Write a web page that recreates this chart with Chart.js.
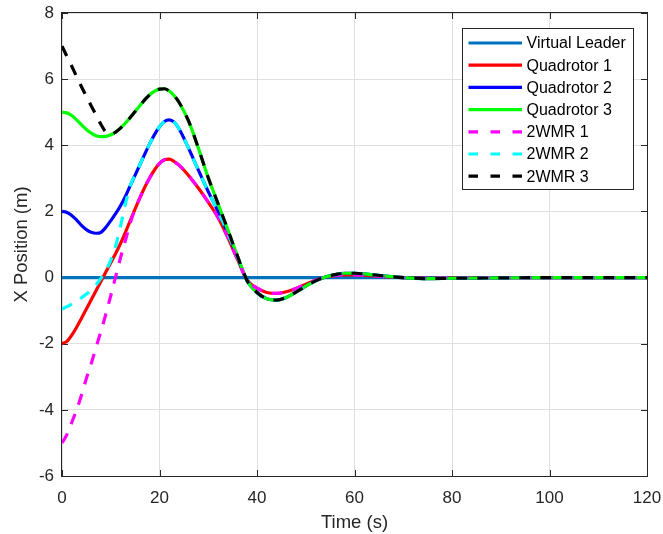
<!DOCTYPE html>
<html>
<head>
<meta charset="utf-8">
<script src="https://cdn.jsdelivr.net/npm/chart.js@4.4.1/dist/chart.umd.min.js"></script>
<style>
  body { margin: 0; background: #fff; }
  #wrap { width: 663px; height: 534px; }
</style>
</head>
<body>
<div id="wrap"><canvas id="posChart"></canvas></div>
<script>
// time samples (s)
const time = [0,1,2,3,4,5,6,7,8,9,10,11,12,13,14,15,16,17,18,19,20,21,22,23,24,
  26,28,30,32,34,36,38,40,42,44,46,48,50,52,54,56,58,60,62,64,66,
  70,75,80,90,100,110,120];

const leader = [0,0,0,0,0,0,0,0,0,0,0,0,0,0,0,0,0,0,0,0,0,0,0,0,0,
  0,0,0,0,0,0,0,0,0,0,0,0,0,0,0,0,0,0,0,0,0,
  0,0,0,0,0,0,0];

const quad1 = [-2.00,-1.93,-1.74,-1.50,-1.23,-0.95,-0.67,-0.39,-0.11,0.17,0.45,0.73,1.03,1.37,1.72,2.08,2.42,2.74,3.02,3.26,3.45,3.56,3.58,3.51,3.40,
  3.08,2.70,2.28,1.82,1.22,0.55,-0.08,-0.32,-0.45,-0.48,-0.43,-0.33,-0.20,-0.08,0.01,0.06,0.08,0.08,0.07,0.05,0.03,
  0.00,-0.02,-0.01,0,0,0,0];

const quad2 = [2.00,1.97,1.88,1.74,1.58,1.45,1.37,1.34,1.37,1.52,1.72,1.93,2.17,2.45,2.78,3.10,3.42,3.74,4.05,4.33,4.56,4.72,4.77,4.70,4.50,
  3.90,3.24,2.60,2.00,1.34,0.62,-0.10,-0.45,-0.64,-0.68,-0.60,-0.44,-0.26,-0.10,0.02,0.09,0.13,0.13,0.11,0.08,0.05,
  0.00,-0.03,-0.02,-0.01,0,0,0];

const quad3 = [5.00,4.98,4.90,4.77,4.62,4.48,4.37,4.29,4.26,4.27,4.32,4.40,4.52,4.67,4.84,5.02,5.20,5.38,5.53,5.64,5.70,5.71,5.64,5.50,5.30,
  4.72,3.90,3.02,2.24,1.45,0.65,-0.10,-0.45,-0.64,-0.68,-0.60,-0.44,-0.26,-0.10,0.02,0.09,0.13,0.13,0.11,0.08,0.05,
  0.00,-0.03,-0.02,-0.01,0,0,0];

const wmr1 = [-5.00,-4.75,-4.38,-4.00,-3.55,-3.05,-2.60,-2.10,-1.62,-1.10,-0.55,0.03,0.60,1.12,1.65,2.08,2.42,2.74,3.02,3.26,3.45,3.56,3.58,3.51,3.40,
  3.08,2.70,2.28,1.82,1.22,0.55,-0.08,-0.32,-0.45,-0.48,-0.43,-0.33,-0.20,-0.08,0.01,0.06,0.08,0.08,0.07,0.05,0.03,
  0.00,-0.02,-0.01,0,0,0,0];

const wmr2 = [-0.95,-0.88,-0.80,-0.71,-0.61,-0.50,-0.38,-0.22,-0.02,0.22,0.52,0.95,1.55,2.22,2.78,3.10,3.42,3.74,4.05,4.33,4.56,4.72,4.77,4.70,4.50,
  3.90,3.24,2.60,2.00,1.34,0.62,-0.10,-0.45,-0.64,-0.68,-0.60,-0.44,-0.26,-0.10,0.02,0.09,0.13,0.13,0.11,0.08,0.05,
  0.00,-0.03,-0.02,-0.01,0,0,0];

const wmr3 = [7.00,6.69,6.39,6.08,5.77,5.48,5.19,4.91,4.63,4.40,4.33,4.40,4.52,4.67,4.84,5.02,5.20,5.38,5.53,5.64,5.70,5.71,5.64,5.50,5.30,
  4.72,3.90,3.02,2.24,1.45,0.65,-0.10,-0.45,-0.64,-0.68,-0.60,-0.44,-0.26,-0.10,0.02,0.09,0.13,0.13,0.11,0.08,0.05,
  0.00,-0.03,-0.02,-0.01,0,0,0];

const seriesNames = ['Virtual Leader', 'Quadrotor 1', 'Quadrotor 2', 'Quadrotor 3', '2WMR 1', '2WMR 2', '2WMR 3'];
const seriesValues = [leader, quad1, quad2, quad3, wmr1, wmr2, wmr3];
const seriesColors = ['#0072BD', '#FF0000', '#0000FF', '#00FF00', '#FF00FF', '#00FFFF', '#000000'];
const xTicks = [0, 20, 40, 60, 80, 100, 120];
const yTicks = [-6, -4, -2, 0, 2, 4, 6, 8];

const FONT = '"Liberation Sans", Arial, Helvetica, sans-serif';
const AXIS_COLOR = '#262626';

const datasets = seriesNames.map((name, i) => ({
  label: name,
  data: time.map((t, k) => ({ x: t, y: seriesValues[i][k] })),
  borderColor: seriesColors[i],
  backgroundColor: seriesColors[i],
  borderWidth: 3.2,
  borderDash: i >= 4 ? [11, 10] : [],
  pointRadius: 0,
  cubicInterpolationMode: 'monotone',
  fill: false,
  order: seriesNames.length - i   // later series drawn on top
}));

// axes box + inward ticks (MATLAB look), drawn under the lines
const frame = {
  id: 'frame',
  beforeDatasetsDraw(chart) {
    const { ctx, chartArea: a, scales: { x, y } } = chart;
    ctx.save();
    ctx.strokeStyle = AXIS_COLOR;
    ctx.lineWidth = 1;
    ctx.beginPath();
    xTicks.forEach(v => {
      const px = Math.round(x.getPixelForValue(v)) + 0.5;
      ctx.moveTo(px, a.bottom); ctx.lineTo(px, a.bottom - 6);
      ctx.moveTo(px, a.top); ctx.lineTo(px, a.top + 6);
    });
    yTicks.forEach(v => {
      const py = Math.round(y.getPixelForValue(v)) + 0.5;
      ctx.moveTo(a.left, py); ctx.lineTo(a.left + 6, py);
      ctx.moveTo(a.right, py); ctx.lineTo(a.right - 6, py);
    });
    ctx.stroke();
    ctx.strokeRect(Math.round(a.left) - 0.5, Math.round(a.top) - 0.5, Math.round(a.width) + 1, Math.round(a.height) + 1);
    ctx.restore();
  },
  afterDraw(chart) {
    const { ctx, chartArea: a } = chart;
    const bx = Math.round(a.right) - 185 + 0.5, by = Math.round(a.top) + 15 + 0.5;
    const bw = 171, bh = 161;
    ctx.save();
    ctx.fillStyle = '#fff';
    ctx.fillRect(bx, by, bw, bh);
    ctx.strokeStyle = AXIS_COLOR;
    ctx.lineWidth = 1;
    ctx.strokeRect(bx, by, bw, bh);
    ctx.font = '16px ' + FONT;
    ctx.textBaseline = 'middle';
    chart.data.datasets.forEach((ds, i) => {
      const yy = by + 14.5 + i * 22.2;
      ctx.strokeStyle = ds.borderColor;
      ctx.lineWidth = ds.borderWidth;
      ctx.setLineDash(ds.borderDash.length ? [9.5, 12.5] : []);
      ctx.beginPath();
      ctx.moveTo(bx + 6, yy);
      ctx.lineTo(bx + 59.5, yy);
      ctx.stroke();
      ctx.setLineDash([]);
      ctx.fillStyle = '#000';
      ctx.fillText(ds.label, bx + 64, yy + 1);
    });
    ctx.restore();
  }
};

new Chart(document.getElementById('posChart'), {
  type: 'line',
  data: { datasets: datasets },
  options: {
    responsive: true,
    maintainAspectRatio: false,
    animation: false,
    layout: { padding: { top: 13, right: 16, left: 0, bottom: 0 } },
    plugins: {
      legend: { display: false },
      tooltip: { enabled: false }
    },
    scales: {
      x: {
        type: 'linear',
        min: 0,
        max: 120,
        afterFit: s => { s.height = 58; s.paddingLeft = 0; s.paddingRight = 0; },
        afterBuildTicks: s => { s.ticks = xTicks.map(v => ({ value: v })); },
        ticks: { color: AXIS_COLOR, font: { family: FONT, size: 17 }, padding: 12, maxRotation: 0 },
        grid: { color: '#dfdfdf', drawTicks: false },
        border: { display: false },
        title: { display: true, text: 'Time (s)', color: AXIS_COLOR, font: { family: FONT, size: 18.5 }, padding: { top: 0, bottom: 0 } }
      },
      y: {
        type: 'linear',
        min: -6,
        max: 8,
        afterFit: s => { s.width = 62; s.paddingTop = 0; s.paddingBottom = 0; },
        afterBuildTicks: s => { s.ticks = yTicks.map(v => ({ value: v })); },
        ticks: { color: AXIS_COLOR, font: { family: FONT, size: 17 }, padding: 8 },
        grid: { color: '#dfdfdf', drawTicks: false },
        border: { display: false },
        title: { display: true, text: 'X Position (m)', color: AXIS_COLOR, font: { family: FONT, size: 18.5 }, padding: { top: 11, bottom: 0 } }
      }
    }
  },
  plugins: [frame]
});
</script>
</body>
</html>
